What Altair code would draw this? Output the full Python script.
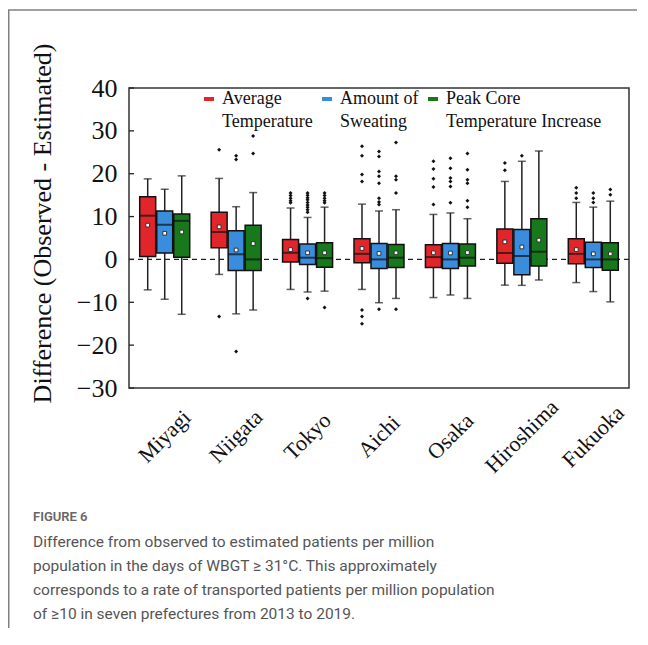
import altair as alt
import pandas as pd

prefectures = ["Miyagi", "Niigata", "Tokyo", "Aichi", "Osaka", "Hiroshima", "Fukuoka"]
series = ["Average Temperature", "Amount of Sweating", "Peak Core Temperature Increase"]
colors = ["#e0262b", "#3a8ddd", "#17781c"]

# one value per box, prefecture-major / series-minor order
whisker_low = [-7.1, -9.3, -12.8, -3.5, -12.7, -11.8, -7.0, -7.6, -7.4, -7.0, -10.1, -9.1,
               -8.9, -8.3, -9.1, -6.0, -6.05, -4.8, -5.4, -7.5, -9.9]
q1 = [0.7, 1.5, 0.5, 2.7, -2.6, -2.6, -0.6, -1.2, -1.8, -0.8, -2.1, -1.9,
      -1.9, -2.1, -1.55, -0.9, -3.6, -1.55, -1.0, -1.9, -2.5]
median = [10.2, 8.1, 9.0, 6.4, 1.2, 0.0, 1.55, 0.4, 0.3, 1.3, 0.0, 0.4,
          0.55, 0.0, 0.4, 1.5, 0.8, 1.8, 1.3, 0.0, 0.0]
q3 = [14.6, 11.3, 10.6, 11.0, 6.7, 8.0, 4.65, 3.6, 3.9, 4.8, 3.7, 3.5,
      3.4, 3.7, 3.6, 7.1, 7.0, 9.5, 4.8, 4.0, 3.9]
whisker_high = [18.8, 16.4, 19.5, 18.9, 12.3, 15.6, 12.0, 9.8, 12.2, 12.9, 11.3, 11.6,
                10.5, 10.85, 9.5, 18.2, 22.9, 25.3, 13.3, 12.2, 13.6]
mean = [8.0, 6.1, 6.4, 7.6, 2.2, 3.7, 2.3, 1.55, 1.55, 2.55, 1.4, 1.55,
        1.55, 1.5, 1.6, 4.1, 2.9, 4.5, 2.3, 1.3, 1.3]
outliers = [
    [], [], [],
    [25.6, -13.3], [24.2, 23.3, -21.5], [28.8, 24.7],
    [15.5, 14.9, 14.3, 13.7, 13.2], [15.5, 15.0, 14.4, 13.9, 13.3, 12.7, 12.2, 11.6, 11.0, -9.1],
    [15.5, 14.9, 14.3, 13.7, 13.2, -11.2],
    [26.4, 24.2, 19.8, 18.2, -11.8, -13.3, -15.0],
    [25.2, 24.0, 20.5, 19.4, 17.8, 14.3, 13.4, 12.8, -11.6],
    [27.3, 19.4, 18.6, 15.5, -11.6],
    [22.9, 21.1, 18.8, 16.9, 12.8], [23.6, 21.3, 19.0, 18.2, 17.0, 13.2],
    [24.7, 20.9, 18.6, 17.8, 13.7, 12.2],
    [22.5, 20.8], [24.2], [],
    [16.7, 15.5, 14.3], [15.5, 14.3, 13.3], [16.3, 15.1],
]
y_ticks = [-30, -20, -10, 0, 10, 20, 30, 40]
legend_lines = {
    "Average Temperature": ["Average", "Temperature"],
    "Amount of Sweating": ["Amount of", "Sweating"],
    "Peak Core Temperature Increase": ["Peak Core", "Temperature Increase"],
}
caption_head = "FIGURE 6"
caption_lines = [
    "Difference from observed to estimated patients per million",
    "population in the days of WBGT \u2265 31\u00b0C. This approximately",
    "corresponds to a rate of transported patients per million population",
    "of \u226510 in seven prefectures from 2013 to 2019.",
]
y_title = "Difference (Observed - Estimated)"

rows, out_rows = [], []
i = 0
for p in prefectures:
    for s in series:
        rows.append(dict(pref=p, series=s, lo=whisker_low[i], q1=q1[i], med=median[i],
                         q3=q3[i], hi=whisker_high[i], mean=mean[i]))
        for v in outliers[i]:
            out_rows.append(dict(pref=p, series=s, v=v))
        i += 1
box_df = pd.DataFrame(rows)
out_df = pd.DataFrame(out_rows)
tick_df = pd.DataFrame({"v": y_ticks})

SERIF = "Liberation Serif"
INK = "#111111"

y_scale = alt.Scale(domain=[-30, 40], nice=False, zero=False)
x_scale = alt.Scale(domain=prefectures, paddingInner=0, paddingOuter=0)
xo = alt.XOffset("series:N", scale=alt.Scale(domain=series, paddingInner=0.06, paddingOuter=0.63))
x_plain = alt.X("pref:N", scale=x_scale)
x_axis = alt.X("pref:N", scale=x_scale, axis=alt.Axis(
    title=None, labelAngle=315, labelAlign="center", labelBaseline="middle",
    labelPadding=48, labelFont=SERIF, labelFontSize=22, labelColor=INK,
    ticks=False, tickSize=0, domain=False, grid=False, labelLimit=300))

label_expr = " : ".join(
    f"datum.label === '{k}' ? {v!r}" for k, v in list(legend_lines.items())[:-1]
) + f" : {list(legend_lines.values())[-1]!r}"

base = alt.Chart(box_df)

zero_line = alt.Chart(alt.Data(values=[{}])).mark_rule(
    color="#222", strokeWidth=1.3, strokeDash=[5, 4]
).encode(y=alt.Y(datum=0, scale=y_scale))

whisker = base.mark_rule(color="#222", strokeWidth=1.5).encode(
    x=x_plain, xOffset=xo,
    y=alt.Y("lo:Q", scale=y_scale), y2="hi:Q")

cap_lo = base.mark_tick(color="#222", size=8, thickness=1.5).encode(
    x=x_plain, xOffset=xo, y=alt.Y("lo:Q", scale=y_scale))
cap_hi = base.mark_tick(color="#222", size=8, thickness=1.5).encode(
    x=x_plain, xOffset=xo, y=alt.Y("hi:Q", scale=y_scale))

boxes = base.mark_bar(stroke="#111", strokeWidth=1.5, opacity=1).encode(
    x=x_axis, xOffset=xo,
    y=alt.Y("q1:Q", scale=y_scale, axis=alt.Axis(
        values=y_ticks, labelFont=SERIF, labelFontSize=26, labelColor=INK,
        labelPadding=12, labelFlush=False, ticks=False, tickSize=0, domain=False, grid=False,
        title=y_title, titleFont=SERIF, titleFontSize=26, titleFontWeight="normal",
        titleColor=INK, titleX=-87, titleY=135, titleAngle=270,
        titleAlign="center", titleBaseline="middle")),
    y2="q3:Q",
    color=alt.Color("series:N", scale=alt.Scale(domain=series, range=colors), legend=alt.Legend(
        title=None, orient="none", legendX=71, legendY=2, direction="horizontal", columns=3,
        symbolType="M-1,-0.4H1V0.4H-1Z", symbolSize=100, symbolStrokeWidth=0,
        labelFont=SERIF, labelFontSize=18, labelColor=INK, labelLimit=300, labelOffset=4,
        columnPadding=5, padding=0, labelExpr=label_expr)))

med_tick = base.mark_tick(color="#111", size=16, thickness=2).encode(
    x=x_plain, xOffset=xo, y=alt.Y("med:Q", scale=y_scale))

mean_pt = base.mark_point(shape="square", filled=True, fill="white", stroke="#333",
                          strokeWidth=1, size=14, opacity=1).encode(
    x=x_plain, xOffset=xo, y=alt.Y("mean:Q", scale=y_scale))

out_pt = alt.Chart(out_df).mark_point(shape="diamond", filled=True, color="#111",
                                      size=16, opacity=1).encode(
    x=x_plain, xOffset=xo, y=alt.Y("v:Q", scale=y_scale))

inner_ticks = alt.Chart(tick_df).mark_rule(color="#222", strokeWidth=1.3).encode(
    y=alt.Y("v:Q", scale=y_scale), x=alt.value(0), x2=alt.value(5))

frame_top = alt.Chart(alt.Data(values=[{}])).mark_rule(color="#808080", strokeWidth=1.6).encode(
    x=alt.value(-121), x2=alt.value(510), y=alt.value(-78))
frame_left = alt.Chart(alt.Data(values=[{}])).mark_rule(color="#808080", strokeWidth=1.6).encode(
    x=alt.value(-120.3), y=alt.value(-78), y2=alt.value(540))

chart = alt.layer(
    zero_line, whisker, cap_lo, cap_hi, boxes, med_tick, mean_pt, out_pt, inner_ticks,
    frame_top, frame_left
).properties(
    width=500, height=300,
    autosize=alt.AutoSizeParams(type="none"),
    padding={"left": 121, "top": 80, "right": 8, "bottom": 240},
    title=alt.Title(
        text=caption_head, subtitle=caption_lines, orient="bottom", anchor="start",
        frame="group", dx=-96, offset=-118,
        font="Roboto", fontSize=13, fontWeight=600, color="#666",
        subtitleFont="Roboto", subtitleFontSize=15.5, subtitleColor="#555",
        subtitleLineHeight=24, subtitlePadding=11),
).configure(
    background="white", style={"guide-label": {"lineHeight": 23}}
).configure_view(
    stroke="#333", strokeWidth=1.5
)

chart.save("out.html", embed_options={"renderer": "svg", "actions": False})
